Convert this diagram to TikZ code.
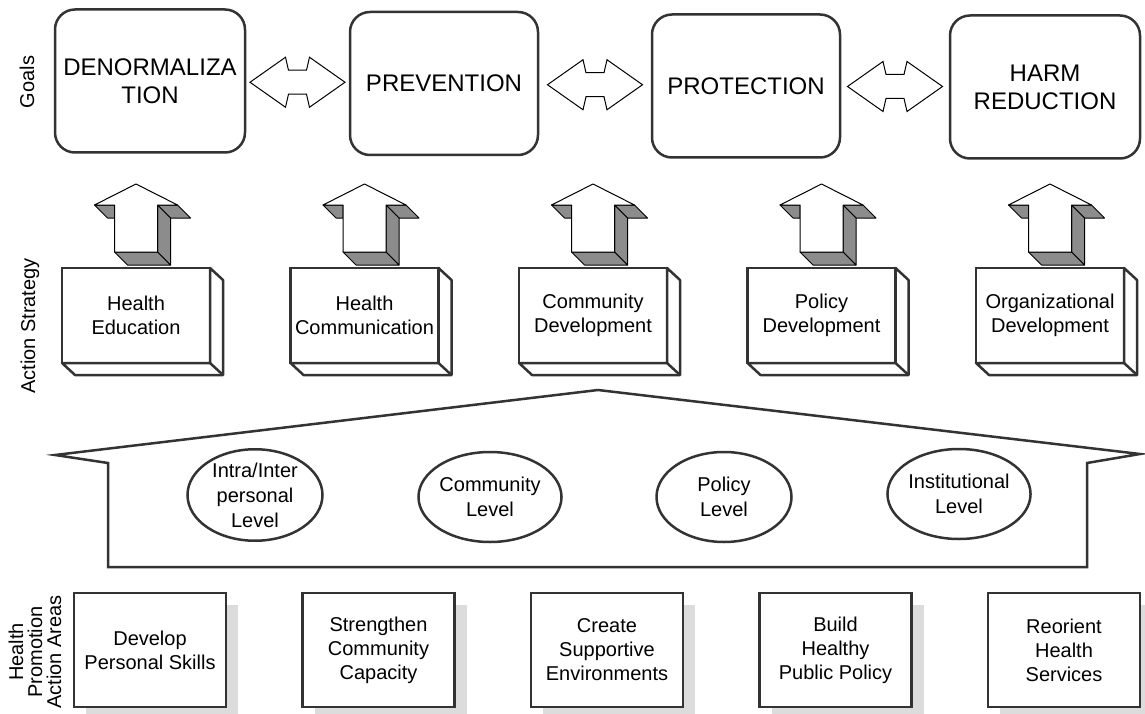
\documentclass[tikz,border=0pt]{standalone}
\usepackage{fontspec}
\setmainfont{Liberation Sans}
\usepackage{xcolor}
\usetikzlibrary{shapes.geometric,calc,shadows}

\definecolor{edgegray}{HTML}{333333}
\definecolor{facegray}{HTML}{8C8C8C}
\definecolor{shadowgray}{HTML}{DCDCDC}

\begin{document}
\begin{tikzpicture}[x=1pt,y=-1pt]
        \useasboundingbox (0,0) rectangle (1145,714);

        % row labels on the left
        \begin{scope}[every node/.style = {rotate=90, align=center,
                        font=\fontsize{20}{19}\selectfont}]
            \node (lgoals) at (27,82)   {Goals};
            \node (lact)   at (30,326)  {Action Strategy};
            \node (lareas) at (35,652)  {Health\\Promotion\\Action Areas};
        \end{scope}

        % goals
        \begin{scope}[every node/.style = {draw=edgegray, line width=2.5pt,
                        rounded corners=20pt, inner sep=0pt, align=center,
                        minimum height=143pt, font=\fontsize{24}{28}\selectfont}]
            \node[minimum width=190pt] (den)  at (150,81)   {DENORMALIZA\\TION};
            \node[minimum width=188pt] (pre)  at (444,83.5) {PREVENTION};
            \node[minimum width=188pt] (pro)  at (746,86)   {PROTECTION};
            \node[minimum width=190pt] (harm) at (1045,87)  {HARM\\REDUCTION};
        \end{scope}

        \begin{scope}[every path/.style={draw=black, fill=white, line width=1pt}]
            \foreach \a/\b in {den/pre, pre/pro, pro/harm} {
                \coordinate (mid) at ($(\a.east)!.5!(\b.west)$);
                \path[shift={(mid)}] (-47.5,0) -- (-12,-25) -- (-9,-12) -- (9,-12)
                    -- (12,-25) -- (47.5,0) -- (12,25) -- (9,12) -- (-9,12)
                    -- (-12,25) -- cycle;
            }
        \end{scope}

        % action strategy
        \begin{scope}[every node/.style = {draw=edgegray, line width=2.5pt,
                        fill=white, inner sep=0pt, outer sep=0pt, align=center,
                        minimum width=148pt, minimum height=95pt,
                        font=\fontsize{20}{24}\selectfont}]
            \node (edu) at (136,315.5)   {Health\\Education};
            \node (com) at (364.5,315.5) {Health\\Communication};
            \node (dev) at (593,315.5)   {Community\\Development};
            \node (pol) at (821.5,315.5) {Policy\\Development};
            \node (org) at (1050,315.5)  {Organizational\\Development};
        \end{scope}

        \foreach \n in {edu,com,dev,pol,org} {
            \draw[draw=edgegray, fill=white, line width=2.5pt, line join=round]
                (\n.north east) -- ++(13,12) -- ($(\n.south east)+(13,12)$)
                -- ($(\n.south west)+(13,12)$) -- (\n.south west)
                -- (\n.south east) -- cycle;
            \draw[draw=edgegray, line width=2.5pt]
                (\n.south east) -- ++(13,12);

            \coordinate (base) at (\n.north);
            \begin{scope}[shift={(base)}, line width=1pt, line join=round]
                \filldraw[fill=facegray] (-41.5,-63) -- (-21.5,-63) -- (-21.5,-50) -- (-28.5,-50) -- cycle;
                \filldraw[fill=facegray] (21.5,-63) -- (41.5,-63) -- (54.5,-50) -- (34.5,-50) -- cycle;
                \filldraw[fill=facegray] (21.5,-63) -- (34.5,-50) -- (34.5,-3) -- (21.5,-16) -- cycle;
                \filldraw[fill=facegray] (-21.5,-16) -- (21.5,-16) -- (34.5,-3) -- (-8.5,-3) -- cycle;
                \filldraw[fill=white] (0,-84) -- (41.5,-63) -- (21.5,-63) -- (21.5,-16)
                    -- (-21.5,-16) -- (-21.5,-63) -- (-41.5,-63) -- cycle;
            \end{scope}
        }

        % levels
        \draw[draw=edgegray, line width=2.5pt, line join=miter]
            (55,455) -- (598,390) -- (1140,454) -- (1087,463)
            -- (1087,567) -- (108,567) -- (108,463) -- cycle;

        \begin{scope}[every node/.style = {ellipse, draw=edgegray, line width=2.5pt,
                        inner sep=0pt, align=center, minimum width=135pt,
                        minimum height=90pt, font=\fontsize{20}{25}\selectfont}]
            \node (inter) at (255,495) {Intra/Inter\\personal\\Level};
            \node (commu) at (490,497) {Community\\Level};
            \node (polic) at (724,497) {Policy\\Level};
            \node (insti) at (959,494) {Institutional\\Level};
        \end{scope}

        % action areas
        \begin{scope}[every node/.style = {draw=edgegray, line width=2.5pt,
                        fill=white, inner sep=0pt, align=center,
                        minimum width=152pt, minimum height=114pt,
                        drop shadow={shadow xshift=12pt, shadow yshift=-12pt,
                                     fill=shadowgray, opacity=1, draw=none},
                        font=\fontsize{20}{24}\selectfont}]
            \node (skills) at (150,650)   {Develop\\Personal Skills};
            \node (capac)  at (378.5,650) {Strengthen\\Community\\Capacity};
            \node (envir)  at (607,650)   {Create\\Supportive\\Environments};
            \node (publ)   at (835.5,650) {Build\\Healthy\\Public Policy};
            \node (serv)   at (1064,650)  {Reorient\\Health\\Services};
        \end{scope}
    \end{tikzpicture}
\end{document}
